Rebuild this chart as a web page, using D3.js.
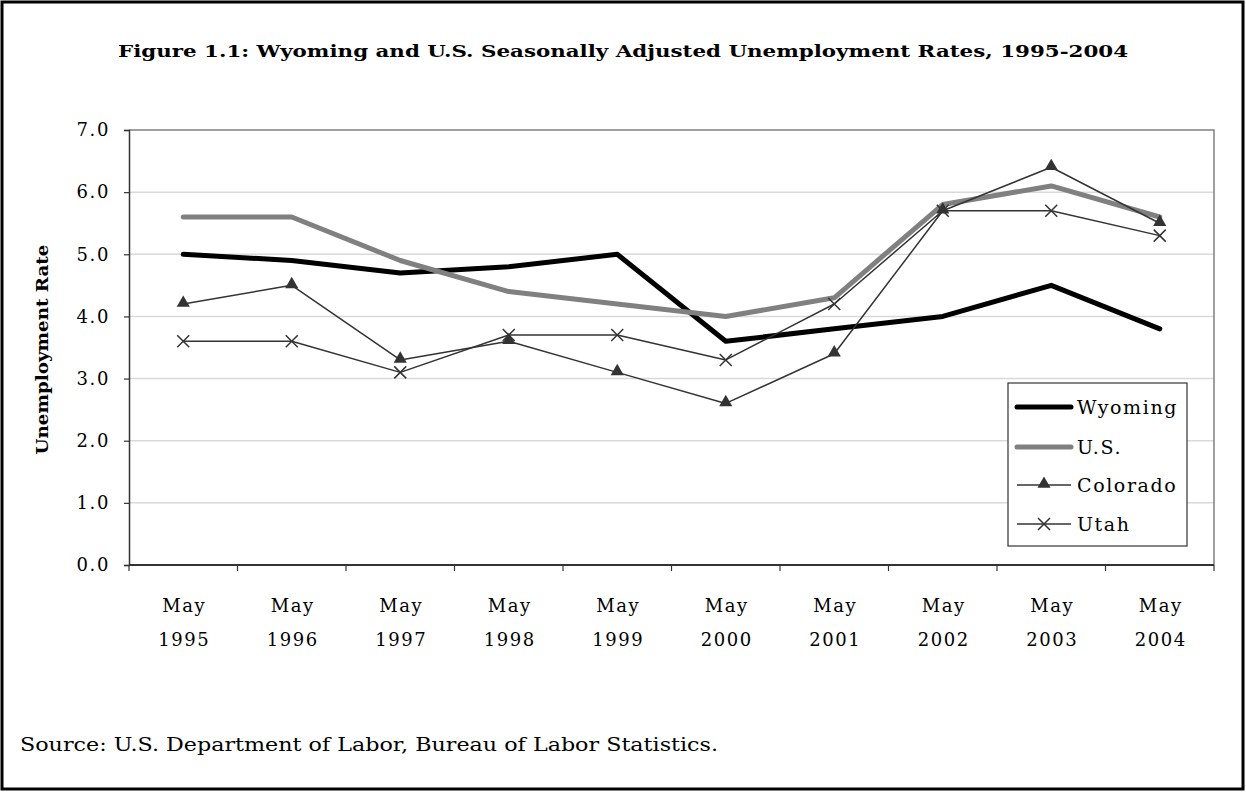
<!DOCTYPE html>
<html><head><meta charset="utf-8">
<script src="https://cdn.jsdelivr.net/npm/d3@7"></script>
<style>body{margin:0;background:#fff}svg{display:block}text{font-family:"DejaVu Serif",serif;fill:#000}</style>
</head><body>
<svg id="c" width="1246" height="792"></svg>
<script>
const categories = ["1995","1996","1997","1998","1999","2000","2001","2002","2003","2004"];
const monthLabel = "May";
const wyoming  = [5.0,4.9,4.7,4.8,5.0,3.6,3.8,4.0,4.5,3.8];
const us       = [5.6,5.6,4.9,4.4,4.2,4.0,4.3,5.8,6.1,5.6];
const colorado = [4.2,4.5,3.3,3.6,3.1,2.6,3.4,5.7,6.4,5.5];
const utah     = [3.6,3.6,3.1,3.7,3.7,3.3,4.2,5.7,5.7,5.3];
const yTicks   = [0,1,2,3,4,5,6,7];
const seriesNames = ["Wyoming","U.S.","Colorado","Utah"];
const title = "Figure 1.1: Wyoming and U.S. Seasonally Adjusted Unemployment Rates, 1995-2004";
const yTitle = "Unemployment Rate";
const source = "Source: U.S. Department of Labor, Bureau of Labor Statistics.";

const svg = d3.select("#c");
const L = 129, R = 1214, T = 130, B = 565;
const FS = 18, LS = 1.6;
const x = d3.scaleBand().domain(categories).range([L, R]);
const y = d3.scaleLinear().domain([0, 7]).range([B, T]);

svg.append("rect").attr("x",2).attr("y",2).attr("width",1241).attr("height",787)
  .attr("fill","#fff").attr("stroke","#000").attr("stroke-width",3);

svg.append("text").attr("x",623).attr("y",57).attr("text-anchor","middle")
  .attr("font-weight","bold").attr("font-size",16).attr("textLength",1010)
  .attr("lengthAdjust","spacingAndGlyphs").text(title);

// gridlines
svg.append("g").selectAll("line").data(yTicks.filter(d=>d>0 && d<7)).join("line")
  .attr("x1",L).attr("x2",R).attr("y1",d=>y(d)).attr("y2",d=>y(d))
  .attr("stroke","#d9d9d9").attr("stroke-width",1.5);
// plot border top/right
svg.append("path").attr("d",`M${L},${y(7)}H${R}V${B}`).attr("fill","none")
  .attr("stroke","#808080").attr("stroke-width",1.5);

// y axis
const yAxis = svg.append("g").attr("transform",`translate(${L},0)`)
  .call(d3.axisLeft(y).tickValues(yTicks).tickFormat(d3.format(".1f")).tickSize(5).tickPadding(14));
yAxis.select(".domain").attr("stroke","#333").attr("stroke-width",1.5);
yAxis.selectAll(".tick line").attr("stroke","#333").attr("stroke-width",1.2);
yAxis.selectAll("text").attr("font-size",FS).attr("letter-spacing",LS).attr("font-family","DejaVu Serif").attr("fill","#000");

// x axis
const xb = svg.append("g");
xb.append("line").attr("x1",L).attr("x2",R).attr("y1",B).attr("y2",B).attr("stroke","#333").attr("stroke-width",2);
const tickPos = categories.map(c=>x(c)).concat([R]);
xb.selectAll("line.t").data(tickPos).join("line").attr("class","t")
  .attr("x1",d=>d).attr("x2",d=>d).attr("y1",B).attr("y2",B+6).attr("stroke","#333").attr("stroke-width",1.2);
const xl = xb.selectAll("g.lab").data(categories).join("g").attr("class","lab")
  .attr("transform",d=>`translate(${x(d)+x.bandwidth()/2+1},0)`);
xl.append("text").attr("y",612).attr("text-anchor","middle").attr("font-size",FS).attr("letter-spacing",LS).text(monthLabel);
xl.append("text").attr("y",646).attr("text-anchor","middle").attr("font-size",FS).attr("letter-spacing",LS).text(d=>d);

svg.append("text").attr("transform",`translate(48,${(T+B)/2+2}) rotate(-90)`)
  .attr("text-anchor","middle").attr("font-weight","bold").attr("font-size",17)
  .attr("textLength",210).attr("lengthAdjust","spacingAndGlyphs").text(yTitle);

const cx = (d,i)=>x(categories[i])+x.bandwidth()/2;
const line = d3.line().x((d,i)=>cx(d,i)).y(d=>y(d));

const styles = [
  {data:wyoming, color:"#000", w:5, m:null},
  {data:us, color:"#808080", w:5, m:null},
  {data:colorado, color:"#333", w:1.5, m:"tri"},
  {data:utah, color:"#333", w:1.5, m:"x"}
];
const triPath = d3.symbol().type(d3.symbolTriangle).size(75)();
function marker(g, type, color){
  if(type==="tri") g.append("path").attr("d",triPath).attr("fill",color).attr("transform","translate(0,-1)");
  if(type==="x") g.append("path").attr("d","M-6,-6L6,6M-6,6L6,-6").attr("stroke",color).attr("stroke-width",1.5).attr("fill","none");
}
styles.forEach(s=>{
  svg.append("path").datum(s.data).attr("d",line).attr("fill","none")
    .attr("stroke",s.color).attr("stroke-width",s.w).attr("stroke-linejoin","round").attr("stroke-linecap","round");
  if(s.m){
    svg.append("g").selectAll("g").data(s.data).join("g")
      .attr("transform",(d,i)=>`translate(${cx(d,i)},${y(d)})`).each(function(){marker(d3.select(this),s.m,s.color);});
  }
});

// legend
const lg = svg.append("g");
lg.append("rect").attr("x",1008).attr("y",383).attr("width",179).attr("height",163)
  .attr("fill","#fff").attr("stroke","#333").attr("stroke-width",1.2);
const ly = [407,447,485,524];
styles.forEach((s,i)=>{
  const g = lg.append("g").attr("transform",`translate(0,${ly[i]})`);
  g.append("line").attr("x1",1017).attr("x2",1071).attr("y1",0).attr("y2",0)
    .attr("stroke",s.color).attr("stroke-width",s.w).attr("stroke-linecap",s.m?"butt":"round");
  if(s.m){ const m=g.append("g").attr("transform","translate(1044,0)"); marker(m,s.m,s.color); }
  g.append("text").attr("x",1077).attr("y",7).attr("font-size",19).attr("letter-spacing",1.6).text(seriesNames[i]);
});

svg.append("text").attr("x",20).attr("y",751).attr("font-size",18)
  .attr("textLength",698).attr("lengthAdjust","spacingAndGlyphs").text(source);
</script>
</body></html>
